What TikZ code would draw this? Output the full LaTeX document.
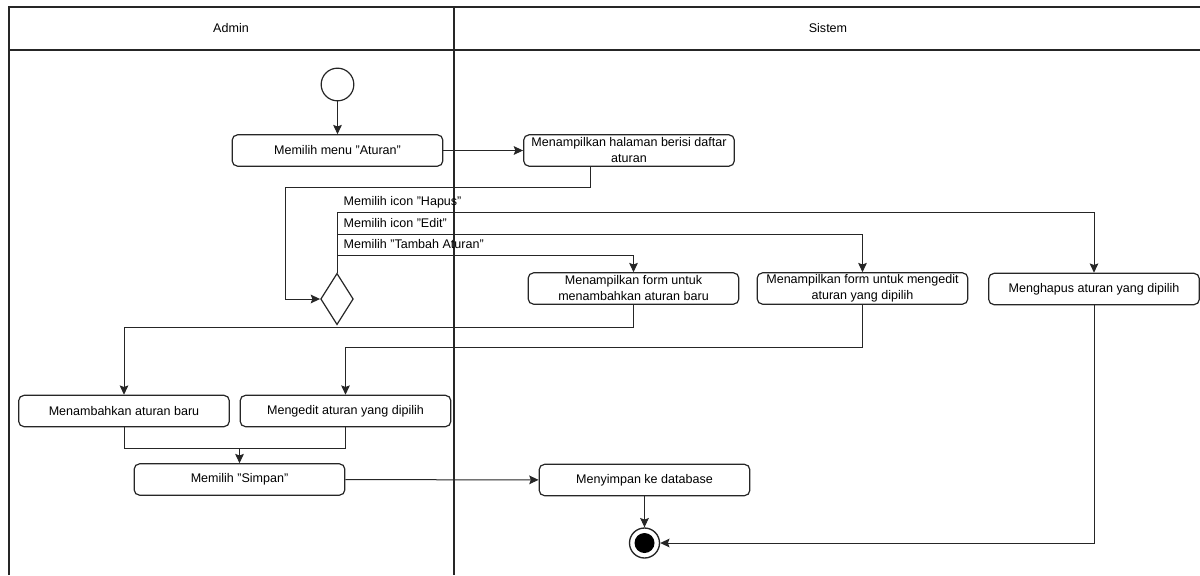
\documentclass[tikz,border=0pt]{standalone}
\usepackage{fontspec}
\setmainfont{Liberation Sans}
\usetikzlibrary{shapes.geometric,arrows.meta}

\begin{document}
\begin{tikzpicture}[x=0.75pt, y=-0.75pt,
    every node/.style={font=\fontsize{9.4}{12}\selectfont},
    actbox/.style={draw=black!85, line width=0.9pt, shape=rectangle, rounded corners=4pt, minimum width=\boxwidth, minimum height=\boxheight, inner sep=1pt, align=center},
    flow/.style={draw=black!85, line width=0.75pt, -{Stealth[length=7pt, width=6.5pt, inset=1.2pt]}},
    link/.style={draw=black!85, line width=0.75pt},
    lane/.style={draw=black!85, line width=1pt}]
    \def\boxwidth{158pt}
    \def\boxheight{23.5pt}
    \useasboundingbox (0,0) rectangle (1200,575);
    \draw[lane] (9,575) -- (9,7) -- (1200,7);
    \draw[lane] (9,50) -- (1200,50);
    \draw[lane] (454,7) -- (454,575);
    \node (admin) at (231,28) {Admin};
    \node (sistem) at (828,28) {Sistem};
    \node[draw=black!85, line width=0.9pt, shape=circle, minimum size=24.5pt, inner sep=0pt] (start) at (337.5,84.5) {};
    \node[actbox] (A1) at (337.5,150.5) {Memilih menu "Aturan"};
    \node[actbox] (S1) at (629,150.5) {Menampilkan halaman berisi daftar\\aturan};
    \node[draw=black!85, line width=0.9pt, shape=diamond, minimum width=24.5pt, minimum height=38.5pt, inner sep=0pt] (D) at (337,299) {};
    \node[anchor=west] (text1) at (339,202) {Memilih icon "Hapus"};
    \node[anchor=west] (text2) at (339,223) {Memilih icon "Edit"};
    \node[anchor=west] (text3) at (339,244) {Memilih "Tambah Aturan"};
    \node[actbox] (S2) at (633.5,288.5) {Menampilkan form untuk\\menambahkan aturan baru};
    \node[actbox] (S3) at (862.5,288.5) {Menampilkan form untuk mengedit\\aturan yang dipilih};
    \node[actbox] (S4) at (1094,289) {Menghapus aturan yang dipilih};
    \node[actbox] (A2) at (124,411) {Menambahkan aturan baru};
    \node[actbox] (A3) at (345.5,411) {Mengedit aturan yang dipilih};
    \node[actbox] (A4) at (239.5,479.5) {Memilih "Simpan"};
    \node[actbox] (S5) at (644.5,480) {Menyimpan ke database};
    \node[draw=black!85, line width=1pt, shape=circle, minimum size=22.5pt, inner sep=0pt] (F) at (644.5,543) {};
    \fill (F.center) circle (7.5pt);
    \coordinate (k1) at (590,187);
    \coordinate (k2) at (285,187);
    \coordinate (kHapus) at (1094,212);
    \coordinate (kEdit) at (862.5,234);
    \coordinate (kTambah) at (633.5,255);
    \coordinate (kA) at (124,327);
    \coordinate (kB) at (345.5,347);
    \coordinate (kJ) at (239.5,448);
    \draw[flow] (start) -- (A1);
    \draw[flow] (A1) -- (S1);
    \draw[flow] (S1.south -| k1) -- (k1) -- (k2) |- (D.west);
    \draw[flow] (D.north) |- (kHapus) -- (S4.north);
    \draw[flow] (D.north) |- (kEdit) -- (S3.north);
    \draw[flow] (D.north) |- (kTambah) -- (S2.north);
    \draw[flow] (S2.south) |- (kA) -- (A2.north);
    \draw[flow] (S3.south) |- (kB) -- (A3.north);
    \draw[link] (A2.south) |- (kJ);
    \draw[link] (A3.south) |- (kJ);
    \draw[flow] (kJ) -- (A4.north);
    \draw[flow] (A4) -- (S5);
    \draw[flow] (S5) -- (F);
    \draw[flow] (S4.south) |- (F.east);
\end{tikzpicture}
\end{document}
